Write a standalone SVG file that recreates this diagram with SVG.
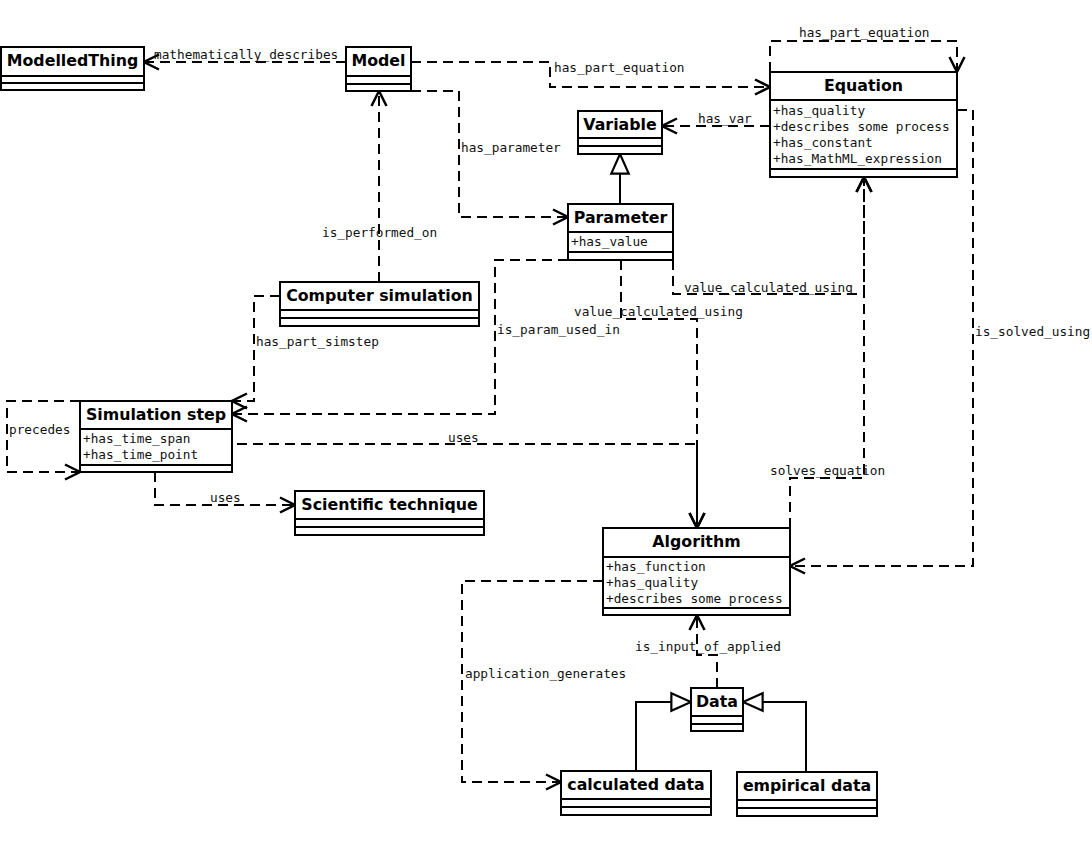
<svg xmlns="http://www.w3.org/2000/svg" width="1092" height="851" viewBox="0 0 1092 851">
<style>
.box{fill:#fff;stroke:#000;stroke-width:2}
.sep{stroke:#000;stroke-width:2}
.title{font-family:"DejaVu Sans",sans-serif;font-weight:bold;font-size:15.8px;text-anchor:middle;fill:#000}
.attr{font-family:"DejaVu Sans Mono",monospace;font-size:12.75px;fill:#111}
.lbl{font-family:"DejaVu Sans Mono",monospace;font-size:12.75px;fill:#111}
.dep{fill:none;stroke:#000;stroke-width:2;stroke-dasharray:10 6;marker-end:url(#open)}
.gen{fill:none;stroke:#000;stroke-width:2;marker-end:url(#tri)}
</style>
<defs>
<marker id="open" markerUnits="userSpaceOnUse" markerWidth="20" markerHeight="20" refX="0" refY="0" viewBox="-14 -8 16 16" orient="auto">
<path d="M-12,-6 L0,0 L-12,6" fill="none" stroke="#000" stroke-width="2" stroke-dasharray="none"/>
</marker>
<marker id="tri" markerUnits="userSpaceOnUse" markerWidth="24" markerHeight="24" refX="0" refY="0" viewBox="-20 -10 22 20" orient="auto">
<path d="M-18,-8 L0,0 L-18,8 Z" fill="#fff" stroke="#000" stroke-width="2" stroke-dasharray="none"/>
</marker>
</defs>
<rect width="1092" height="851" fill="#fff"/>
<g id="connectors">
<path class="dep" d="M346,62 L144,62"/>
<text class="lbl" x="154" y="59">mathematically_describes</text>
<path class="dep" d="M411,62 L550,62 L550,87 L770,87"/>
<text class="lbl" x="554" y="72">has_part_equation</text>
<path class="dep" d="M770,72 L770,41 L957,41 L957,72"/>
<text class="lbl" x="799" y="37">has_part_equation</text>
<path class="dep" d="M770,126 L662,126"/>
<text class="lbl" x="698" y="123">has_var</text>
<path class="dep" d="M411,91 L459,91 L459,217 L568,217"/>
<text class="lbl" x="461" y="152">has_parameter</text>
<path class="dep" d="M379,282 L379,91"/>
<text class="lbl" x="322" y="237">is_performed_on</text>
<path class="gen" d="M620,204 L620,154"/>
<path class="dep" d="M568,260 L495,260 L495,414 L232,414"/>
<text class="lbl" x="497" y="334">is_param_used_in</text>
<path class="dep" d="M621,260 L621,319 L697,319 L697,528"/>
<text class="lbl" x="574" y="316">value_calculated_using</text>
<path class="dep" d="M673,260 L673,294 L864,294 L864,177"/>
<text class="lbl" x="684" y="292">value_calculated_using</text>
<path class="dep" d="M790,528 L790,478 L864,478 L864,177"/>
<text class="lbl" x="770" y="475">solves_equation</text>
<path class="dep" d="M957,110 L973,110 L973,566 L790,566"/>
<text class="lbl" x="975" y="336">is_solved_using</text>
<path class="dep" d="M280,296 L254,296 L254,401 L232,401"/>
<text class="lbl" x="256" y="346">has_part_simstep</text>
<path class="dep" d="M80,401 L7,401 L7,472 L80,472"/>
<text class="lbl" x="9" y="434">precedes</text>
<path class="dep" style="stroke-dashoffset:11" d="M232,444 L697,444 L697,528"/>
<text class="lbl" x="448" y="442">uses</text>
<path class="dep" d="M155,472 L155,505 L295,505"/>
<text class="lbl" x="210" y="502">uses</text>
<path class="dep" d="M603,581 L462,581 L462,782 L561,782"/>
<text class="lbl" x="465" y="678">application_generates</text>
<path class="dep" d="M717,688 L717,655 L697,655 L697,615"/>
<text class="lbl" x="635" y="651">is_input_of_applied</text>
<path class="gen" d="M636,771 L636,702 L691,702"/>
<path class="gen" d="M806,772 L806,702 L743,702"/>
</g>
<g id="ModelledThing">
<rect class="box" x="1" y="47" width="143" height="43"/>
<line class="sep" x1="1" y1="76" x2="144" y2="76"/><line class="sep" x1="1" y1="83" x2="144" y2="83"/>
<text class="title" x="72.5" y="66">ModelledThing</text>
</g>
<g id="Model">
<rect class="box" x="346" y="47" width="65" height="44"/>
<line class="sep" x1="346" y1="76" x2="411" y2="76"/><line class="sep" x1="346" y1="84" x2="411" y2="84"/>
<text class="title" x="378.5" y="66">Model</text>
</g>
<g id="Equation">
<rect class="box" x="770" y="72" width="187" height="105"/>
<line class="sep" x1="770" y1="100" x2="957" y2="100"/><line class="sep" x1="770" y1="169" x2="957" y2="169"/>
<text class="title" x="863.5" y="91">Equation</text>
<text class="attr" x="773" y="115">+has_quality</text>
<text class="attr" x="773" y="131">+describes some process</text>
<text class="attr" x="773" y="147">+has_constant</text>
<text class="attr" x="773" y="163">+has_MathML_expression</text>
</g>
<g id="Variable">
<rect class="box" x="578" y="111" width="84" height="43"/>
<line class="sep" x1="578" y1="138" x2="662" y2="138"/><line class="sep" x1="578" y1="146" x2="662" y2="146"/>
<text class="title" x="620" y="130">Variable</text>
</g>
<g id="Parameter">
<rect class="box" x="568" y="204" width="105" height="56"/>
<line class="sep" x1="568" y1="232" x2="673" y2="232"/><line class="sep" x1="568" y1="252" x2="673" y2="252"/>
<text class="title" x="620.5" y="223">Parameter</text>
<text class="attr" x="571" y="246">+has_value</text>
</g>
<g id="ComputerSimulation">
<rect class="box" x="280" y="282" width="199" height="44"/>
<line class="sep" x1="280" y1="310" x2="479" y2="310"/><line class="sep" x1="280" y1="318" x2="479" y2="318"/>
<text class="title" x="379.5" y="301">Computer simulation</text>
</g>
<g id="SimulationStep">
<rect class="box" x="80" y="401" width="152" height="71"/>
<line class="sep" x1="80" y1="429" x2="232" y2="429"/><line class="sep" x1="80" y1="465" x2="232" y2="465"/>
<text class="title" x="156" y="420">Simulation step</text>
<text class="attr" x="83" y="443">+has_time_span</text>
<text class="attr" x="83" y="459">+has_time_point</text>
</g>
<g id="ScientificTechnique">
<rect class="box" x="295" y="491" width="189" height="44"/>
<line class="sep" x1="295" y1="519" x2="484" y2="519"/><line class="sep" x1="295" y1="527" x2="484" y2="527"/>
<text class="title" x="389.5" y="510">Scientific technique</text>
</g>
<g id="Algorithm">
<rect class="box" x="603" y="528" width="187" height="87"/>
<line class="sep" x1="603" y1="557" x2="790" y2="557"/><line class="sep" x1="603" y1="608" x2="790" y2="608"/>
<text class="title" x="696.5" y="547">Algorithm</text>
<text class="attr" x="606" y="571">+has_function</text>
<text class="attr" x="606" y="587">+has_quality</text>
<text class="attr" x="606" y="603">+describes some process</text>
</g>
<g id="Data">
<rect class="box" x="691" y="688" width="52" height="43"/>
<line class="sep" x1="691" y1="716" x2="743" y2="716"/><line class="sep" x1="691" y1="724" x2="743" y2="724"/>
<text class="title" x="717" y="707">Data</text>
</g>
<g id="CalculatedData">
<rect class="box" x="561" y="771" width="150" height="44"/>
<line class="sep" x1="561" y1="799" x2="711" y2="799"/><line class="sep" x1="561" y1="807" x2="711" y2="807"/>
<text class="title" x="636" y="790">calculated data</text>
</g>
<g id="EmpiricalData">
<rect class="box" x="737" y="772" width="140" height="44"/>
<line class="sep" x1="737" y1="800" x2="877" y2="800"/><line class="sep" x1="737" y1="808" x2="877" y2="808"/>
<text class="title" x="807" y="791">empirical data</text>
</g>
</svg>
